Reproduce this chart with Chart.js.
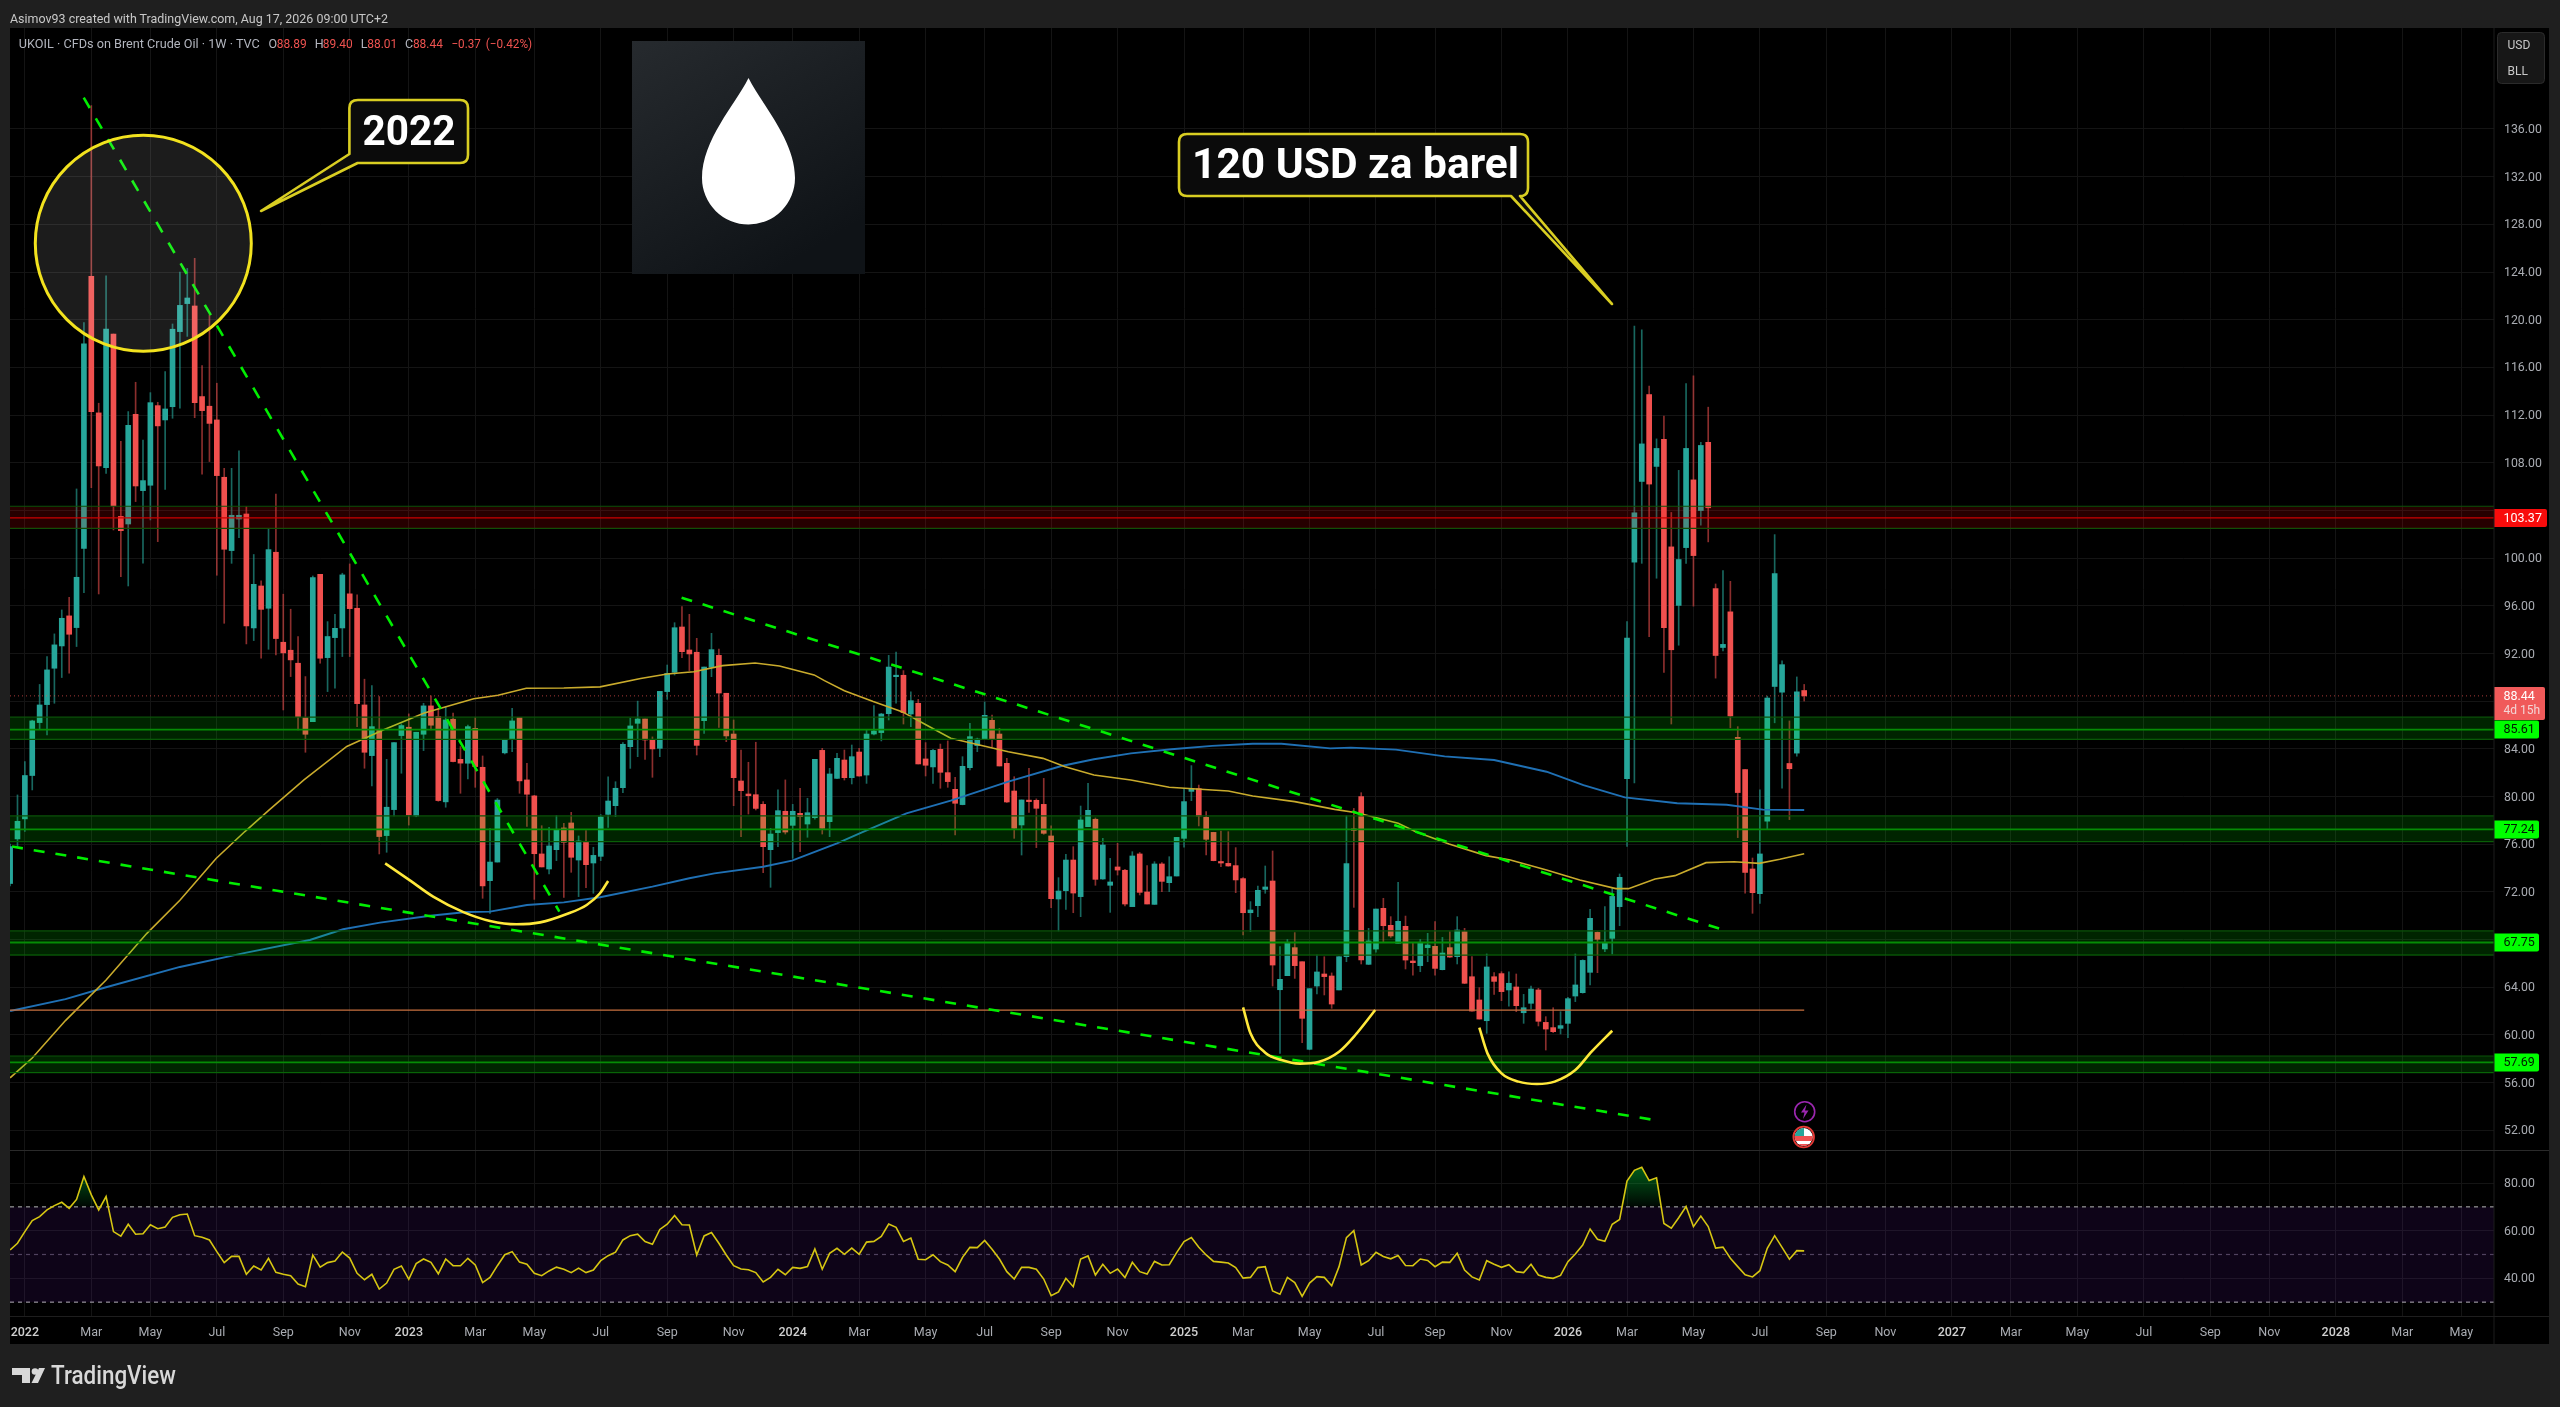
<!DOCTYPE html>
<html><head><meta charset="utf-8">
<script src="https://cdn.jsdelivr.net/npm/chart.js@4/dist/chart.umd.min.js"></script>
<style>
html,body{margin:0;padding:0;width:2560px;height:1407px;background:#1f1f1f;overflow:hidden}
canvas{position:absolute;display:block;background:#000}
#overlay{position:absolute;left:0;top:0;z-index:5;pointer-events:none}
text{font-family:Roboto,sans-serif}
</style></head><body>
<canvas id="price" width="2539" height="1123" style="left:10px;top:28px;width:2539px;height:1123px"></canvas>
<canvas id="rsi" width="2539" height="193" style="left:10px;top:1151px;width:2539px;height:193px"></canvas>
<svg id="overlay" width="2560" height="1407" viewBox="0 0 2560 1407">
<defs>
<linearGradient id="lg" x1="0" y1="0" x2="0.6" y2="1"><stop offset="0" stop-color="#262a2e"/><stop offset="1" stop-color="#0f1317"/></linearGradient>
<clipPath id="flag"><circle cx="1803.7" cy="1137" r="9"/></clipPath>
</defs>
<line x1="2494" y1="28" x2="2494" y2="1344" stroke="#1c1c1c"/>
<line x1="10" y1="1150.5" x2="2549" y2="1150.5" stroke="#2a2a2a"/>
<line x1="10" y1="1316.5" x2="2549" y2="1316.5" stroke="#1e1e1e"/>
<text x="10" y="23" font-size="13" fill="#c8c8c8" textLength="378" lengthAdjust="spacingAndGlyphs">Asimov93 created with TradingView.com, Aug 17, 2026 09:00 UTC+2</text>
<g font-size="12.5">
<text x="18.8" y="48" fill="#b2b5be" textLength="241" lengthAdjust="spacingAndGlyphs">UKOIL · CFDs on Brent Crude Oil · 1W · TVC</text>
<text x="268.6" y="48" fill="#b2b5be">O</text><text x="276.7" y="48" fill="#ef5350" textLength="30" lengthAdjust="spacingAndGlyphs">88.89</text>
<text x="314.7" y="48" fill="#b2b5be">H</text><text x="322.8" y="48" fill="#ef5350" textLength="30" lengthAdjust="spacingAndGlyphs">89.40</text>
<text x="360.8" y="48" fill="#b2b5be">L</text><text x="367.3" y="48" fill="#ef5350" textLength="30" lengthAdjust="spacingAndGlyphs">88.01</text>
<text x="405" y="48" fill="#b2b5be">C</text><text x="412.9" y="48" fill="#ef5350" textLength="30" lengthAdjust="spacingAndGlyphs">88.44</text>
<text x="451.4" y="48" fill="#ef5350" textLength="29.5" lengthAdjust="spacingAndGlyphs">−0.37</text>
<text x="485.7" y="48" fill="#ef5350" textLength="46.5" lengthAdjust="spacingAndGlyphs">(−0.42%)</text>
</g>
<rect x="2497.5" y="32.5" width="47" height="51" rx="4" fill="#171717" stroke="#2b2b2b"/>
<text x="2507.5" y="49" font-size="12" fill="#c8c8c8">USD</text>
<text x="2507.5" y="75" font-size="12" fill="#c8c8c8">BLL</text>
<rect x="632" y="41" width="233" height="233" fill="url(#lg)"/>
<path d="M748.5,78 C735,105 702,140 702,178 A46.5,46.5 0 0 0 795,178 C795,140 762,105 748.5,78 Z" fill="#fff"/>
<path d="M358,100 H460 Q468,100 468,108 V155 Q468,163 460,163 H357.6 L261,211 L349.4,154 V108 Q349.4,100 358,100 Z" fill="#0b0b0b" stroke="#d9ce22" stroke-width="2.6" stroke-linejoin="round"/>
<text x="409" y="145" font-size="42" font-weight="700" fill="#fff" text-anchor="middle" textLength="93" lengthAdjust="spacingAndGlyphs">2022</text>
<path d="M1187,134 H1520 Q1528,134 1528,142 V188 Q1528,196 1520,196 L1612,304 L1511,196 H1187 Q1179,196 1179,188 V142 Q1179,134 1187,134 Z" fill="#0b0b0b" stroke="#d9ce22" stroke-width="2.6" stroke-linejoin="round"/>
<text x="1355.5" y="178" font-size="42" font-weight="700" fill="#fff" text-anchor="middle" textLength="327" lengthAdjust="spacingAndGlyphs">120 USD za barel</text>
<circle cx="1804.7" cy="1111.7" r="10" fill="#000" stroke="#9c27b0" stroke-width="1.6"/>
<path d="M1806.5,1104.5 L1801,1112.5 H1804.5 L1803,1119 L1808.5,1110.5 H1805 Z" fill="#9c27b0"/>
<g clip-path="url(#flag)"><rect x="1794" y="1127" width="20" height="20" fill="#fff"/><rect x="1794" y="1136" width="20" height="5" fill="#f05050"/><rect x="1794" y="1144" width="20" height="4" fill="#f05050"/><rect x="1794" y="1127" width="10" height="9" fill="#26a69a"/></g>
<circle cx="1803.7" cy="1137" r="10.3" fill="none" stroke="#e53935" stroke-width="1.8"/>
<path d="M12,1368 H30 V1383 H22 V1375 H12 Z" fill="#d8d8d8"/><circle cx="35" cy="1371.5" r="3.3" fill="#d8d8d8"/><polygon points="39,1368 45,1368 38,1383 31.5,1383" fill="#d8d8d8"/>
<text x="51" y="1384" font-size="25" font-weight="500" fill="#d8d8d8" textLength="125" lengthAdjust="spacingAndGlyphs">TradingView</text>
</svg>
<script>
// ---- weekly candles (index 0 = 20 Dec 2021, one step per week) ----
const opens=[72.7,76.44,78.12,81.76,86.2,87.71,90.76,92.63,95.15,94.17,
100.82,123.64,112.18,107.59,118.8,103.5,102.86,112.06,105.66,106.11,
112.79,111.59,112.7,119,121.35,121.15,113.55,112.74,111.59,106.78,
100.63,103.28,103.7,94.14,97.66,95.79,100.49,92.94,92.27,91.18,
86.62,86.28,98.64,91.65,93.33,94.14,97,95.79,87.68,83.43,
85.64,76.72,78.9,85.11,85.81,78.37,85.22,87.6,86.7,79.55,
86.48,83.12,82.79,85.72,82.45,72.94,74.5,83.66,84.83,86.62,
81.39,80.05,75.18,73.92,75.54,77.36,77.78,74.67,76.24,74.42,
74.98,78.5,79.23,80.74,84.18,86.14,86.5,84.74,84.04,88.8,
90.42,94.22,92.29,92.1,86.36,90.84,91.84,88.66,85.24,81.3,
80.21,80.15,79.34,75.54,76.97,78.76,77.58,78.59,77.69,78.22,
83.87,77.89,81.52,83.06,81.58,83.73,81.8,85.24,85.36,86.95,
90.05,90.17,86.92,87.82,83.15,82.48,83.96,82,80.6,79.32,
82.42,84.27,84.82,86.39,85.24,82.78,80.46,77.61,79.68,79.68,
79.34,76.69,71.4,72.1,74.67,71.6,77.47,78.09,73.08,72.55,
74.09,73.81,70.76,75.18,71.99,70.95,74.34,72.77,73.33,76.49,
80.43,80.66,78.25,76.99,74.48,74.39,74.2,73.11,70.25,70.84,
72.21,72.91,63.79,64.97,67.32,66.14,58.79,64.1,65.11,64.94,
63.77,66.56,77.25,79.99,65.92,67.2,70.62,69.19,67.68,69.11,
66.2,65.81,67.32,67.43,65.47,67.32,66.56,68.66,64.88,62.93,
61.19,64.88,65.14,63.77,64.02,61.86,62.65,63.77,61.05,60.61,
60.55,60.97,63.26,63.54,65.25,68.6,67.21,68.1,70.76,81.49,
99.66,106.43,113.72,107.69,109.96,100.94,96.03,100.88,106.56,103.99,
109.71,97.44,92.5,95.49,84.96,82.26,73.92,71.85,77.93,89.23,
88.75,82.77,83.64,88.89];
const highs=[76,80.13,82.93,86.4,89.4,91.74,93.64,95.65,96.7,105.8,
119.75,137.96,112.99,123.67,118.8,109.8,112.29,114.75,109.91,113.88,
113.07,115.64,119.64,124,124.3,125.15,116.15,120.4,114.67,107.53,
107.53,108.99,104.32,100.3,98.1,102.42,105.38,96.97,95.71,93.42,
90.06,98.5,98.64,94.67,95.29,98.73,99.51,96.91,89.84,89.3,
88.38,83.12,84.52,86.09,86.93,85.39,87.82,88.44,87.4,87.54,
87,84.19,86,86.65,83.4,77.3,79.83,84.8,87.4,86.62,
82.79,80.1,77.55,77.41,78.42,77.75,78.67,76.69,77.13,75.74,
78.48,81.66,81.24,84.52,86.56,88,86.5,85,88.82,91.03,
94.58,95.93,95.28,93.27,90.86,93.69,92.37,88.66,86.42,83.9,
82.87,84.55,79.57,77.33,80.55,81.39,79.34,80.69,79.85,83.12,
84.04,82.36,83.62,83.9,84.32,84.04,85.58,87.62,86.98,91.84,
92.12,90.56,88.77,88.15,84.52,83.96,84.4,84.66,81.61,83.34,
86.14,84.9,87.93,86.84,85.72,83.2,81.66,79.71,82.36,79.8,
81.52,77.53,73.19,75.15,75.79,79.2,81.1,78.2,76.49,74.81,
76.07,73.9,75.37,75.3,74.2,74.53,74.45,74.95,76.57,80.69,
82.59,80.96,78.73,77,77.1,77.05,75.71,73.2,71.18,72.49,
74.17,75.43,67.4,68,68.58,66.14,63.88,66.7,66.56,65.2,
66.56,78.39,79,80.32,68.94,70.56,71.46,69.92,72.8,69.97,
67.68,68,68.52,69.5,68.18,68.66,69.92,68.94,66.56,63.96,
66.79,65.22,65.3,65.3,65.11,63.4,64.1,63.91,61.53,62.28,
61.95,63.15,66.79,66.3,70.53,68.65,70.76,72.3,73.5,94.68,
119.47,119.15,114.43,110,111.92,103.83,107.36,114.65,115.29,109.71,
112.66,97.83,98.95,98.05,85.86,82.26,74.84,80.55,88.42,101.97,
91.38,86.34,90.03,89.4];
const lows=[72.5,75.8,77.06,80.55,85.64,85.17,87.82,89.98,90.34,92.58,
97.1,105.9,96.99,107.1,102.36,98.45,97.66,104.74,99.57,103.2,
101.38,105.77,111.73,112.57,118.6,111.78,107.03,108.1,98.56,94.53,
99.56,101.72,92.8,93.08,91.6,92.35,91.88,87.26,90.06,85.59,
83.71,86.28,91.18,88.8,89.08,91.74,91.74,85.86,82.37,80.89,
75.18,75.32,78.37,81.95,77.6,78.3,83.85,85.58,79.6,79.1,
82.9,80.27,81.47,80.77,71.46,70.2,74.5,83.57,83.77,80.27,
77.48,71.37,74.09,73.5,74.62,71.54,73.64,71.6,72.35,71.88,
74.62,77.4,78.31,80.32,82.36,83.34,83.12,81.61,83.34,88.15,
90.19,91.65,90.56,83.48,85.3,90.05,85.8,84.6,79.23,76.63,
78.53,78.87,73.61,72.38,75.79,76.85,74.81,75.37,76.58,78.1,
76.85,76.63,81.5,81.38,81.05,81.7,81.1,85.16,84.66,86.42,
87.82,86.08,85.86,82.73,81.72,81.1,80.69,80.77,76.77,79.3,
82.22,83.76,84.8,84.13,82.56,79.5,76.49,75.09,78.67,75.71,
76.83,70.67,68.72,70.53,70.25,69.92,77.47,72.55,73.05,70.28,
73.41,70.82,70.76,71.74,70.98,70.95,72.02,72.02,73.33,75.74,
79.65,77.53,75.09,74.6,74.12,74.15,71.93,68.38,68.66,69.92,
71.88,64.1,58.45,64.97,64.74,59.35,58.75,63.43,63.35,62.23,
63.77,66.14,70.7,65.95,65.9,66.93,67.74,68.18,67.68,65.53,
65.02,65.3,66.14,65.02,65.45,66.5,65.95,64.3,62,61.33,
60.13,63.4,62.87,62.42,61.95,60.97,62.17,60.75,58.73,60.19,
60.08,59.77,62.79,63.5,64.19,65.22,66.98,66.79,69.16,75.81,
81.14,99.56,93.4,98.31,90.41,86.08,92.69,99.56,95.97,102.77,
101.36,89.93,92.21,85.76,76.55,71.89,70.2,71.04,77.29,86.18,
80.69,78.06,83.38,88.01];
const closes=[75.8,77.92,81.76,86.34,87.68,90.62,92.72,94.95,93.61,98.39,
117.97,112.29,107.73,119.22,104.37,102.3,111.14,106.05,106.5,113.04,
111.09,112.51,119.2,121.2,121.82,113.04,112.37,111.3,106.92,100.74,
103.59,103.59,94.31,97.8,95.7,100.71,93.25,92.05,91.46,86.68,
85.22,98.36,91.6,93.42,94.11,98.59,95.76,87.79,83.71,85.86,
76.64,79.1,84.52,85.95,78.45,85.39,87.6,85.98,79.66,86.42,
82.93,82.8,85.86,82.51,72.5,74.5,79.7,84.72,86.34,81.31,
80.19,75.2,74.09,75.85,77.19,76.15,74.9,76.27,74.28,75.06,
78.28,79.62,80.69,84.38,85.92,86.5,84.74,83.99,88.82,90.33,
94.16,92.15,91.96,84.29,90.86,92.32,88.68,85.08,81.58,80.49,
80.07,79,75.79,76.85,78.81,77.02,78.76,78.31,78.64,83.12,
77.33,81.89,83.2,81.58,83.34,81.72,85.24,85.5,86.92,90.86,
90.11,87.03,88.04,82.73,82.62,83.87,82.03,81.25,79.43,82.53,
85.02,84.82,86.81,84.82,82.56,79.54,77.33,79.71,79.57,79.01,
76.91,71.43,72.07,74.67,71.9,78.03,78.84,73.05,75.93,72.83,
73.83,70.98,75.01,71.96,70.98,74.34,72.88,73.27,76.57,79.57,
80.66,78.36,76.41,74.62,74.42,74.17,73,70.25,70.48,72.13,
72.41,65.86,64.66,67.68,65.81,61.39,63.88,65.28,64.89,62.59,
66.56,74.37,77.16,66.28,67.88,70.56,69.16,68.3,69.53,66.28,
66.06,67.77,67.54,65.58,66.87,66.53,68.8,64.33,62,61.33,
65.7,64.49,63.63,64.33,62.45,62.28,63.85,61.14,60.49,60.27,
60.78,63.04,64.19,66.25,69.78,68.02,67.68,71.62,73.22,93.3,
103.8,109.58,106.21,109.2,94.17,92.31,99.88,109.2,100.21,109.45,
104.22,91.83,92.76,86.75,80.33,73.63,71.93,75.18,88.26,98.7,
91.06,82.33,88.78,88.44];
// ---- moving averages ----
const slowMaIdx=[0,3,7.5,13,18.5,23,27.9,31.8,35.1,39.8,45.6,50.6,56.1,62.8,66.1,69.9,75,79.9,85.4,89,92.6,96.5,100.9,104.2,108.9,110.3,113,116.9,120.8,124.1,127.4,131.3,135.2,139.9,142.9,146.8,151.8,157,162.8,165,168.3,174,179.4,182.4,188,190.4,194.9,199.9,203.2,208.1,212.6,217.5,219.2,222.8,225.5,229.7,233.5,236.9,239.7,243];
const slowMaVal=[56.4,58.06,61.2,64.6,68.5,71.3,74.8,77.06,78.87,81.39,84.2,85.6,87,88.2,88.5,89.08,89.1,89.2,89.9,90.28,90.47,90.98,91.2,90.95,90.2,89.72,88.88,87.96,87.12,86,84.88,84.32,83.76,83.2,82.5,81.8,81.39,80.77,80.55,80.46,80.04,79.57,78.92,78.64,77.75,77.05,76.02,75.04,74.67,73.83,72.99,72.27,72.27,73.08,73.36,74.45,74.53,74.39,74.73,75.2];
const longMaIdx=[0,7.5,13,23,32,40.6,45.1,50.1,56.9,61.8,65,70,75,79.9,87,92,95.4,102,105.9,112,115.3,121.4,127.4,135.2,142.4,146.8,151.8,157.3,162.8,168.3,172.2,178.8,181.6,187.7,194.3,201,208.1,213.1,218.7,225.8,232.5,237.4,243];
const longMaVal=[62,63,64,65.7,66.9,67.96,68.86,69.42,70,70.31,70.34,70.9,71.12,71.55,72.44,73.14,73.55,74.11,74.62,76.07,76.97,78.59,79.65,81.25,82.56,83.12,83.62,83.96,84.25,84.43,84.43,84.04,84.1,83.93,83.37,83.06,82.08,80.96,79.93,79.43,79.31,78.9,78.87];
// ---- RSI, one value per week ----
const rsiValues=[51.9,54.7,59.6,64.2,65.9,68.7,70.5,71.9,69.4,73.1,
82.7,75,68.7,74.3,59.6,57.7,62.7,58.5,58.7,62.5,
60.8,61.5,65.6,66.7,67,57.9,57.2,56.1,51.2,46.6,
49.2,49.2,41.7,45.2,43.5,48.4,42.5,41.7,41.1,37.6,
36.5,49.8,44.7,46.6,47.3,51,48.5,42.1,39.4,41.7,
35.5,38,43.8,45.2,39.6,46.2,48.1,46.7,41.9,48.1,
45.3,45.3,48.4,45.6,38.2,40.4,45.3,49.9,51.2,46.8,
45.9,42.1,41.1,43.1,44.7,43.8,42.4,44.3,42.4,43.5,
47.4,49.5,51,56.1,57.9,58.5,55.4,54.3,60.5,62.7,
66.4,62.5,62.4,49.8,57.8,59.2,54.7,49.8,45.3,43.9,
43.6,42.4,38.5,40.4,43.8,41.5,44.6,44.2,44.9,52.3,
43.8,50.5,52.6,50.1,52.7,50.1,55.2,55.5,57.6,62.8,
61.4,55.5,56.9,48,47.8,49.9,47,45.6,42.8,48.8,
53,52.9,55.9,52.2,48.1,42.8,39.7,44.6,44.6,43.8,
39.7,32.7,34.3,40,36.5,48.1,49.4,41.4,45.9,42.1,
43.9,40.3,46.7,42.8,41.8,47.1,45.6,45.7,50.8,55.4,
57.1,53,49.8,47.1,46.8,46.4,44.5,40.1,40.4,44.5,
44.9,34.7,33.3,40.4,38.2,32.4,38,40.7,40.4,36.9,
44.9,57.1,60,45.6,47.4,50.9,49.2,48.2,49.6,45.4,
45.3,48.1,47.5,44.9,46.8,46.7,50.5,43.5,40.6,39.3,
47.4,45.9,44.6,45.7,42.8,42.4,45.9,41.4,40.4,40,
41.2,47,50.2,54,60.7,56.4,55.5,62.7,64.7,80.8,
85.3,86.6,81,82.2,63,61,65.4,70.1,61.7,66.1,
61.7,52.7,53.1,48.4,44.9,41.5,40.6,43.2,52.6,57.9,
53,48,51.6,51.5];
// ---- axis labels ----
const xTickIdx=[2,11,19,28,37,46,54,63,71,80,89,98,106,115,124,132,141,150,159,167,176,185,193,202,211,219,228,237,246,254,263,271,280,289,298,306,315,324,332];
const xTickLabels=["2022","Mar","May","Jul","Sep","Nov","2023","Mar","May","Jul","Sep","Nov","2024","Mar","May","Jul","Sep","Nov","2025","Mar","May","Jul","Sep","Nov","2026","Mar","May","Jul","Sep","Nov","2027","Mar","May","Jul","Sep","Nov","2028","Mar","May"];
const priceTicks=[52,56,60,64,68,72,76,80,84,88,92,96,100,104,108,112,116,120,124,128,132,136];
const hiddenPriceLabels=[68,88,104];
const rsiTicks=[40,60,80];
// ---- horizontal zones ----
const zoneTops=[104.35,86.65,78.37,68.72,58.23];
const zoneBottoms=[102.5,84.8,76.22,66.7,56.83];
const zoneMids=[103.37,85.61,77.24,67.75,57.69];
const zoneTagText=["103.37","85.61","77.24","67.75","57.69"];
const lastPrice=88.44, pivotLevel=62.08;
// ---- drawn trend lines: [index, price] ends ----
const trendA=[[9.97,138.63],[74.4,70.34]];
const trendB=[[0.26,75.8],[222.7,52.86]];
const trendC=[[90.95,96.68],[231.8,68.86]];
const arcA=[[50.8,74.39],[54.2,72.94],[57.3,71.6],[61.4,70.3],[65,69.56],[68.6,69.28],[71.8,69.44],[75.4,70.14],[78.1,70.9],[79.9,71.88],[81,72.91]];
const arcB=[[167,62.31],[168,60.13],[170,58.51],[172.2,57.89],[174.7,57.59],[177.2,57.73],[180,58.59],[182.2,59.99],[184.9,62.09]];
const arcC=[[199,60.61],[200.1,58.45],[202,56.77],[204.3,56.08],[206.8,55.88],[209.2,56.08],[212,57.05],[214.2,58.59],[217,60.35]];
const circleMark={x:18.04,y:126.41,r:108};

const XMIN=-0.0135,XMAX=336.43;
const GRID='#141414', UP='#26a69a', DOWN='#f0504e', WICKUP='rgba(38,166,154,.62)', WICKDN='rgba(240,80,78,.58)';
const LABEL='#a9acb2', YEAR='#cfcfcf';
Chart.defaults.font.family='Roboto, sans-serif';
Chart.defaults.font.size=12;
const isUp=i=>closes[i]>=opens[i];
const isYearTick=c=>!!c.tick&&/^\d{4}$/.test(xTickLabels[xTickIdx.indexOf(c.tick.value)]||'');
const hl=(y,order,color,width,dash)=>({type:'line',data:[{x:XMIN,y},{x:XMAX,y}],borderColor:color,borderWidth:width,borderDash:dash||[],pointRadius:0,order,fill:false});
const poly=(pts,order,color,width,extra)=>Object.assign({type:'line',data:pts.map(p=>({x:p[0],y:p[1]})),borderColor:color,borderWidth:width,pointRadius:0,order,fill:false},extra||{});
const xAxis=(show,h)=>({type:'linear',min:XMIN,max:XMAX,offset:false,grid:{color:GRID,drawTicks:false,offset:false},border:{display:false},
  afterBuildTicks:s=>{s.ticks=xTickIdx.map(v=>({value:v}))},
  ticks:{display:show,autoSkip:false,maxRotation:0,minRotation:0,padding:9,
    color:c=>isYearTick(c)?YEAR:LABEL,
    font:c=>({size:12.5,weight:isYearTick(c)?'500':'400'}),
    callback:v=>xTickLabels[xTickIdx.indexOf(v)]},
  afterFit:s=>{s.height=h;s.paddingLeft=0;s.paddingRight=0}});
const nudgeLabels=s=>{ if(s._nudged) return; s._nudged=true;
  const f=s._computeLabelItems.bind(s);
  s._computeLabelItems=a=>{const r=f(a);r.forEach(it=>{const t=it.options.translation;it.options.translation=[t[0],t[1]+1]});return r}; };
const yAxis=(min,max,list,cb)=>({type:'linear',position:'right',min,max,grid:{color:GRID,drawTicks:false},border:{display:false},
  afterBuildTicks:s=>{s.ticks=list.map(v=>({value:v}))},
  ticks:{autoSkip:false,padding:10,color:LABEL,font:{size:12.3},callback:cb},
  afterFit:s=>{s.width=55;s.paddingTop=0;s.paddingBottom=0;nudgeLabels(s)}});

const tagsPlugin={id:'tags',afterDraw(ch){
  const c=ch.ctx,y=ch.scales.y,R=ch.chartArea.right;
  c.save();c.textBaseline='middle';c.textAlign='left';
  zoneMids.forEach((v,i)=>{
    const py=y.getPixelForValue(v);
    const red=i===0;
    c.fillStyle=red?'#f80c0c':'#00ff00';
    c.beginPath();c.roundRect(R,py-9,red?53:45,18,[0,2,2,0]);c.fill();
    c.fillStyle=red?'#ffffff':'#001a00';c.font='12.5px Roboto';
    c.fillText(zoneTagText[i],R+9.5,py+0.5);
  });
  const p=y.getPixelForValue(lastPrice);
  c.fillStyle='#f05a5a';c.beginPath();c.roundRect(R,p-9,51,33,[0,2,2,0]);c.fill();
  c.fillStyle='#ffffff';c.font='12.5px Roboto';c.fillText(lastPrice.toFixed(2),R+9.5,p+0.5);
  c.fillStyle='#f3d6d6';c.font='12px Roboto';c.fillText('4d 15h',R+9.5,p+15);
  c.restore();
}};

const zoneSets=[];
zoneMids.forEach((m,i)=>{
  const red=i===0;
  zoneSets.push(Object.assign(hl(zoneTops[i],70,'#0a5208',1.2),{fill:{value:zoneBottoms[i]},backgroundColor:red?'rgba(255,0,0,.15)':'rgba(0,255,0,.14)'}));
  zoneSets.push(hl(zoneBottoms[i],70,'#0a5208',1.2));
  zoneSets.push(hl(m,69,red?'#cc0000':'#058c05',red?1.2:1.8));
});

new Chart(document.getElementById('price'),{
  data:{datasets:[
    {type:'bar',grouped:false,order:90,barThickness:1,data:highs.map((h,i)=>({x:i,y:[lows[i],h]})),backgroundColor:opens.map((o,i)=>isUp(i)?WICKUP:WICKDN),borderWidth:0},
    {type:'bar',grouped:false,order:89,barThickness:5,minBarLength:1.5,data:opens.map((o,i)=>({x:i,y:[o,closes[i]]})),backgroundColor:opens.map((o,i)=>isUp(i)?UP:DOWN),borderWidth:0},
    poly(slowMaIdx.map((x,i)=>[x,slowMaVal[i]]),80,'#c9ab2c',1.6),
    poly(longMaIdx.map((x,i)=>[x,longMaVal[i]]),80,'#1f70b4',1.9),
    ...zoneSets,
    hl(lastPrice,66,'rgba(239,83,80,.7)',1,[1,3]),
    poly([[XMIN,pivotLevel],[243,pivotLevel]],65,'#c8703f',1.4),
    poly(trendA,60,'#00ee00',2.6,{borderDash:[12,12]}),
    poly(trendB,60,'#00ee00',2.6,{borderDash:[11,11]}),
    poly(trendC,60,'#00ee00',2.6,{borderDash:[11,11]}),
    poly(arcA,50,'#ffe83b',2.6,{cubicInterpolationMode:'monotone'}),
    poly(arcB,50,'#ffe83b',2.6,{cubicInterpolationMode:'monotone'}),
    poly(arcC,50,'#ffe83b',2.6,{cubicInterpolationMode:'monotone'}),
    {type:'bubble',order:40,data:[circleMark],backgroundColor:'rgba(255,255,255,.11)',borderColor:'#f2e21e',borderWidth:3,clip:false}
  ]},
  options:{responsive:false,animation:false,devicePixelRatio:1,events:[],layout:{padding:0,autoPadding:false},
    plugins:{legend:{display:false},tooltip:{enabled:false}},
    scales:{x:xAxis(false,0),y:yAxis(50.26,144.47,priceTicks,v=>hiddenPriceLabels.includes(v)?'':Number(v).toFixed(2))}},
  plugins:[tagsPlugin]
});

const rc=document.getElementById('rsi');
const rctx=rc.getContext('2d');
const grad=rctx.createLinearGradient(0,18,0,56);
grad.addColorStop(0,'rgba(0,210,60,.42)');grad.addColorStop(1,'rgba(0,210,60,.03)');
new Chart(rc,{
  data:{datasets:[
    {type:'line',order:10,data:rsiValues.map((v,i)=>({x:i,y:v})),borderColor:'#d6c612',borderWidth:1.6,pointRadius:0,fill:{target:{value:70},above:grad,below:'rgba(0,0,0,0)'}},
    Object.assign(hl(70,30,'#8f8f8f',1.3,[4,4]),{fill:{value:30},backgroundColor:'rgba(126,40,220,.11)'}),
    hl(50,30,'#4b4650',1.2,[4,4]),
    hl(30,30,'#8f8f8f',1.3,[4,4])
  ]},
  options:{responsive:false,animation:false,devicePixelRatio:1,events:[],layout:{padding:0,autoPadding:false},
    plugins:{legend:{display:false},tooltip:{enabled:false}},
    scales:{x:xAxis(true,28),y:yAxis(24.19,93.43,rsiTicks,v=>Number(v).toFixed(2))}}
});
</script>
</body></html>
